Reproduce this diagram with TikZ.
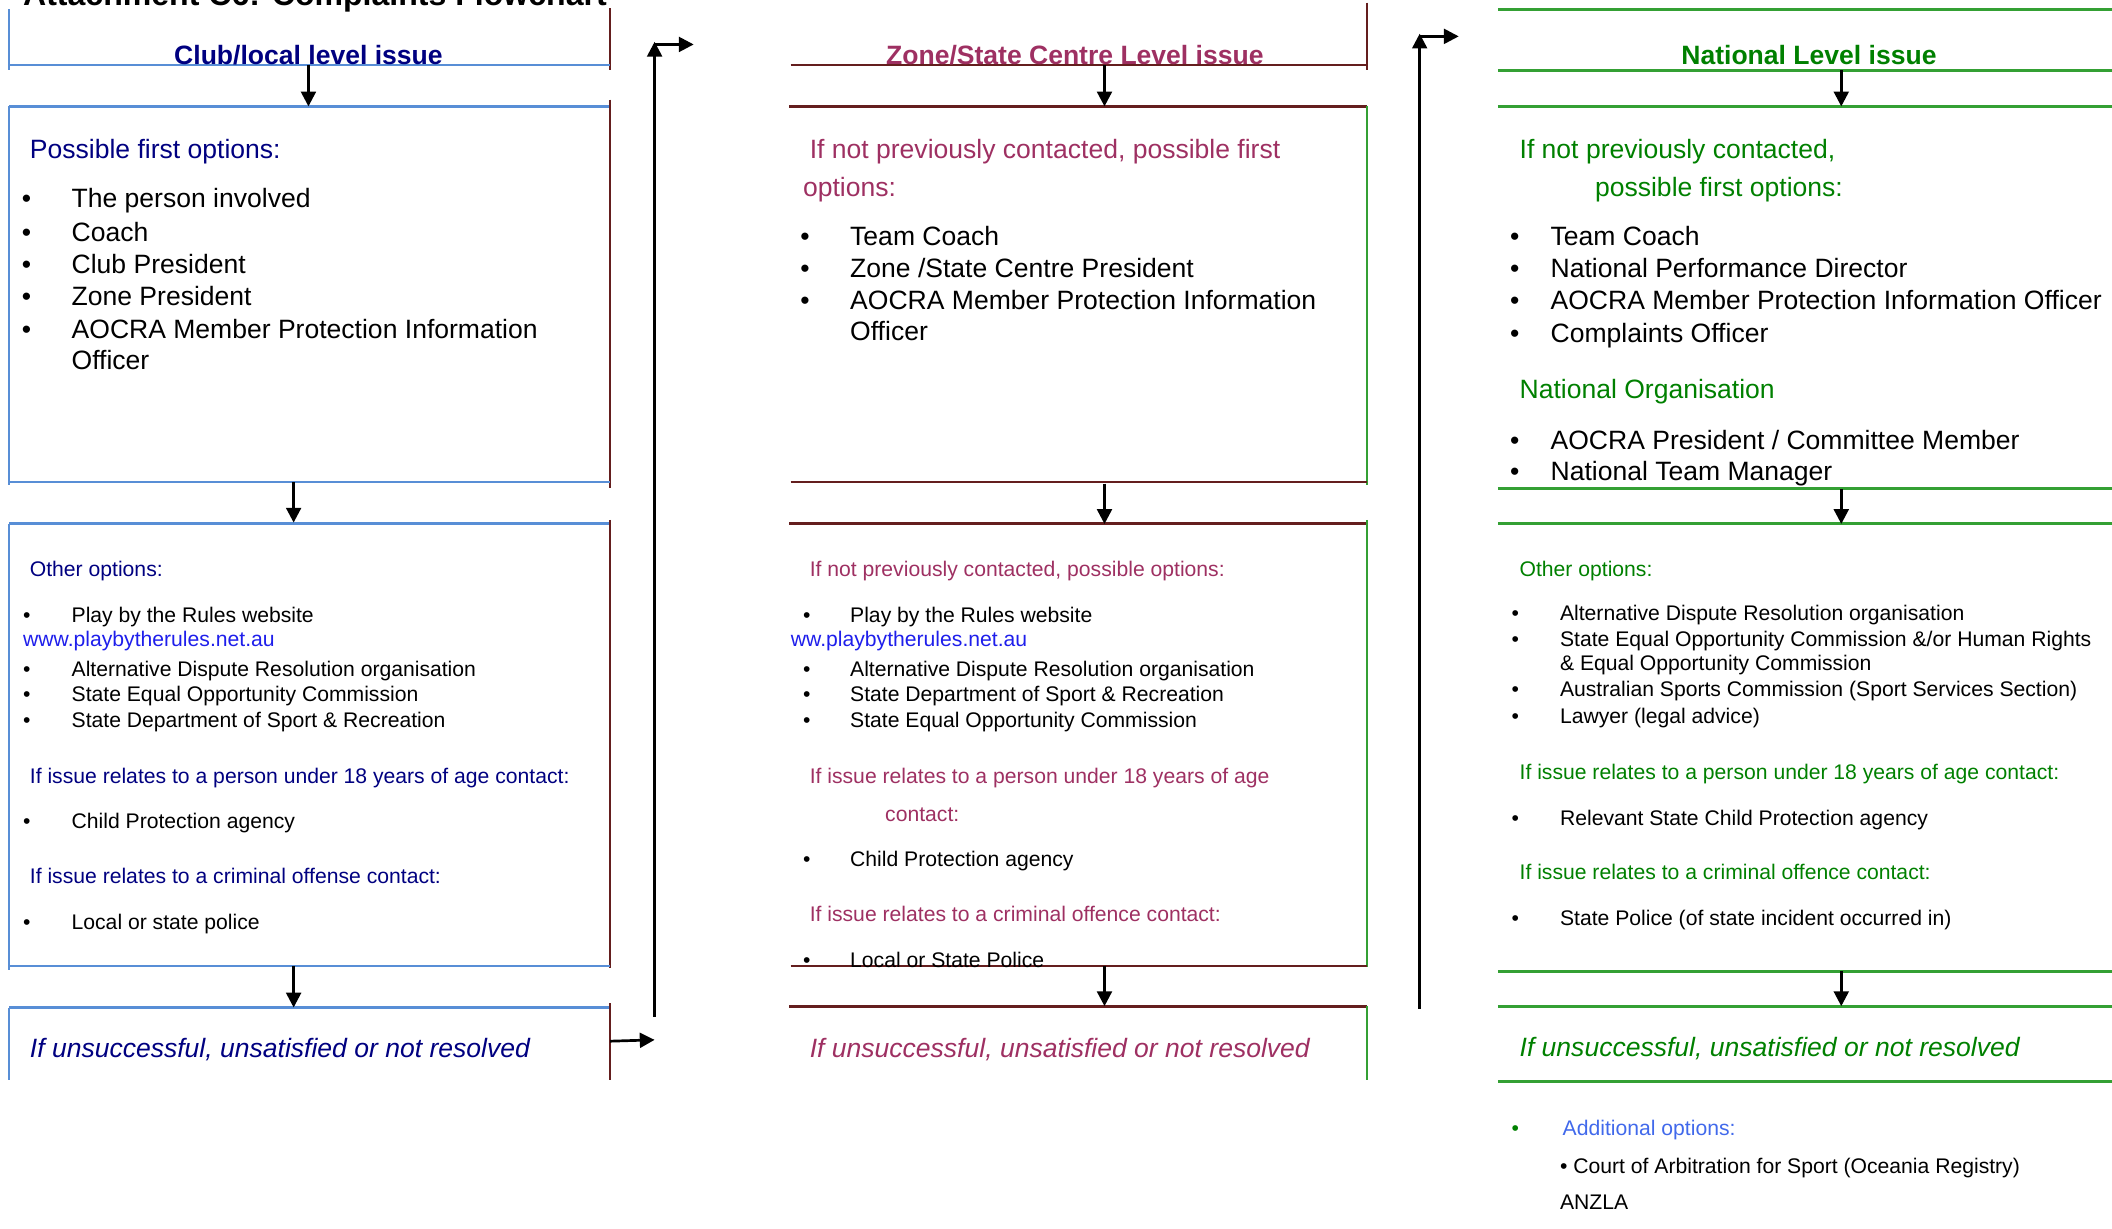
\documentclass[tikz,border=0pt]{standalone}
\usepackage{fontspec}
\setmainfont{Liberation Sans}
\usetikzlibrary{arrows.meta}
\definecolor{cnavy}{RGB}{0,0,128}
\definecolor{cblueline}{RGB}{88,142,214}
\definecolor{cmaroon}{RGB}{100,30,30}
\definecolor{crasp}{RGB}{158,48,98}
\definecolor{cgreen}{RGB}{0,128,0}
\definecolor{cgreenline}{RGB}{52,160,52}
\definecolor{clink}{RGB}{30,30,235}
\definecolor{caddl}{RGB}{65,105,235}
\tikzset{
  big/.style={font=\fontsize{19.7}{24}\selectfont, anchor=base west, inner sep=0pt, yshift=-1pt},
  small/.style={font=\fontsize{15.7}{19}\selectfont, anchor=base west, inner sep=0pt, yshift=-1pt},
  head/.style={font=\fontsize{19.7}{24}\selectfont\bfseries, anchor=base, inner sep=0pt, yshift=-1pt},
  ital/.style={font=\fontsize{19.7}{24}\selectfont\itshape, anchor=base west, inner sep=0pt, yshift=-1pt},
  arr/.style={draw=black, line width=2pt, -{Triangle[length=11pt,width=11pt]}},
  bl/.style={draw=cblueline, line width=1.5pt},
  blt/.style={draw=cblueline, line width=2.2pt},
  mr/.style={draw=cmaroon, line width=1.5pt},
  mrt/.style={draw=cmaroon, line width=2.2pt},
  gr/.style={draw=cgreenline, line width=1.5pt},
  grt/.style={draw=cgreenline, line width=2.2pt},
}
\begin{document}
\begin{tikzpicture}[x=1pt,y=-1pt]
\useasboundingbox (0,0) rectangle (1568,912.4);
\begin{scope}
\clip (0,0) rectangle (1568,912.4);
\node[font=\fontsize{23.8}{28}\selectfont\bfseries, anchor=base west, inner sep=0pt] (title) at (17,4) {Attachment C6: Complaints Flowchart};
\end{scope}

% ---------------- Column 1 lines
\draw[bl] (7,7) -- (7,52);
\draw[mr] (453,6) -- (453,52);
\draw[bl] (7,48) -- (453,48);
\draw[blt] (7,79) -- (453,79);
\draw[bl] (7,79) -- (7,360);
\draw[mr] (453,74) -- (453,362);
\draw[bl] (7,358) -- (453,358);
\draw[blt] (7,389) -- (453,389);
\draw[bl] (7,389) -- (7,720);
\draw[mr] (453,386) -- (453,719);
\draw[bl] (7,717) -- (453,717);
\draw[blt] (7,748) -- (453,748);
\draw[bl] (7,748) -- (7,802);
\draw[mr] (453,745) -- (453,802);

% ---------------- Column 2 lines
\draw[mr] (587,48) -- (1015,48);
\draw[mr] (1015,2) -- (1015,52);
\draw[mrt] (586,79) -- (1015,79);
\draw[gr] (1015,79) -- (1015,360);
\draw[mr] (587,358) -- (1015,358);
\draw[mrt] (586,389) -- (1015,389);
\draw[gr] (1015,386) -- (1015,718);
\draw[mr] (587,717) -- (1015,717);
\draw[mrt] (586,747) -- (1015,747);
\draw[gr] (1015,747) -- (1015,802);

% ---------------- Column 3 lines
\foreach \yy in {7,52,79,363,389,721,747,803}
  \draw[grt] (1112,\yy) -- (1568,\yy);

% ---------------- Column 1 text
\node[head, text=cnavy] (h1) at (229,47) {Club/local level issue};
\node[big, text=cnavy] (p1) at (22,117) {Possible first options:};
\foreach \yy/\tt [count=\i] in {153/{The person involved},178/{Coach},202/{Club President},226/{Zone President},250/{AOCRA Member Protection Information}}{
  \node[big] (b1\i) at (16,\yy) {\textbullet};
  \node[big] (t1\i) at (53,\yy) {\tt};
}
\node[big] (t1off) at (53,273) {Officer};

\node[small, text=cnavy] (o1) at (22,427) {Other options:};
\node[small] (ob11) at (17,461) {\textbullet};
\node[small] (ot11) at (53,461) {Play by the Rules website};
\node[small, text=clink] (w1) at (17,479) {www.playbytherules.net.au};
\foreach \yy/\tt [count=\i] in {501/{Alternative Dispute Resolution organisation},520/{State Equal Opportunity Commission},539/{State Department of Sport \& Recreation}}{
  \node[small] (obb1\i) at (17,\yy) {\textbullet};
  \node[small] (ott1\i) at (53,\yy) {\tt};
}
\node[small, text=cnavy] (u1) at (22,581) {If issue relates to a person under 18 years of age contact:};
\node[small] (ub1) at (17,614) {\textbullet};
\node[small] (ut1) at (53,614) {Child Protection agency};
\node[small, text=cnavy] (c1) at (22,655) {If issue relates to a criminal offense contact:};
\node[small] (cb1) at (17,689) {\textbullet};
\node[small] (ct1) at (53,689) {Local or state police};
\node[ital, text=cnavy] (r1) at (22,784) {If unsuccessful, unsatisfied or not resolved};

% ---------------- Column 2 text
\node[head, text=crasp] (h2) at (798,47) {Zone/State Centre Level issue};
\node[big, text=crasp] (p2a) at (601,117) {If not previously contacted, possible first};
\node[big, text=crasp] (p2b) at (596,145) {options:};
\foreach \yy/\tt [count=\i] in {181/{Team Coach},205/{Zone /State Centre President},229/{AOCRA Member Protection Information}}{
  \node[big] (b2\i) at (594,\yy) {\textbullet};
  \node[big] (t2\i) at (631,\yy) {\tt};
}
\node[big] (t2off) at (631,252) {Officer};

\node[small, text=crasp] (o2) at (601,427) {If not previously contacted, possible options:};
\node[small] (ob21) at (596,461) {\textbullet};
\node[small] (ot21) at (631,461) {Play by the Rules website};
\node[small, text=clink] (w2) at (587,479) {ww.playbytherules.net.au};
\foreach \yy/\tt [count=\i] in {501/{Alternative Dispute Resolution organisation},520/{State Department of Sport \& Recreation},539/{State Equal Opportunity Commission}}{
  \node[small] (obb2\i) at (596,\yy) {\textbullet};
  \node[small] (ott2\i) at (631,\yy) {\tt};
}
\node[small, text=crasp] (u2a) at (601,581) {If issue relates to a person under 18 years of age};
\node[small, text=crasp] (u2b) at (657,609) {contact:};
\node[small] (ub2) at (596,642) {\textbullet};
\node[small] (ut2) at (631,642) {Child Protection agency};
\node[small, text=crasp] (c2) at (601,683) {If issue relates to a criminal offence contact:};
\node[small] (cb2) at (596,717) {\textbullet};
\node[small] (ct2) at (631,717) {Local or State Police};
\node[ital, text=crasp] (r2) at (601,784) {If unsuccessful, unsatisfied or not resolved};

% ---------------- Column 3 text
\node[head, text=cgreen] (h3) at (1343,47) {National Level issue};
\node[big, text=cgreen] (p3a) at (1128,117) {If not previously contacted,};
\node[big, text=cgreen] (p3b) at (1184,145) {possible first options:};
\foreach \yy/\tt [count=\i] in {181/{Team Coach},205/{National Performance Director},229/{AOCRA Member Protection Information Officer},253/{Complaints Officer}}{
  \node[big] (b3\i) at (1121,\yy) {\textbullet};
  \node[big] (t3\i) at (1151,\yy) {\tt};
}
\node[big, text=cgreen] (n3) at (1128,295) {National Organisation};
\foreach \yy/\tt [count=\i] in {333/{AOCRA President / Committee Member},356/{National Team Manager}}{
  \node[big] (nb3\i) at (1121,\yy) {\textbullet};
  \node[big] (nt3\i) at (1151,\yy) {\tt};
}

\node[small, text=cgreen] (o3) at (1128,427) {Other options:};
\foreach \yy/\tt [count=\i] in {460/{Alternative Dispute Resolution organisation},479/{State Equal Opportunity Commission \&/or Human Rights},516/{Australian Sports Commission (Sport Services Section)},536/{Lawyer (legal advice)}}{
  \node[small] (obb3\i) at (1122,\yy) {\textbullet};
  \node[small] (ott3\i) at (1158,\yy) {\tt};
}
\node[small] (ott3x) at (1158,497) {\& Equal Opportunity Commission};
\node[small, text=cgreen] (u3) at (1128,578) {If issue relates to a person under 18 years of age contact:};
\node[small] (ub3) at (1122,612) {\textbullet};
\node[small] (ut3) at (1158,612) {Relevant State Child Protection agency};
\node[small, text=cgreen] (c3) at (1128,652) {If issue relates to a criminal offence contact:};
\node[small] (cb3) at (1122,686) {\textbullet};
\node[small] (ct3) at (1158,686) {State Police (of state incident occurred in)};
\node[ital, text=cgreen] (r3) at (1128,783) {If unsuccessful, unsatisfied or not resolved};

\node[small, text=cgreen] (ab) at (1122,842) {\textbullet};
\node[small, text=caddl] (ad) at (1160,842) {Additional options:};
\node[small] (cas) at (1158,870) {\textbullet\ Court of Arbitration for Sport (Oceania Registry)};
\node[small] (anz) at (1158,897) {ANZLA};

% ---------------- Arrows
\coordinate (a1s) at (229,48);  \coordinate (a1e) at (229,79);
\coordinate (a2s) at (218,358); \coordinate (a2e) at (218,388);
\coordinate (a3s) at (218,717); \coordinate (a3e) at (218,748);
\draw[arr] (a1s) -- (a1e);
\draw[arr] (a2s) -- (a2e);
\draw[arr] (a3s) -- (a3e);
\coordinate (s1a) at (453,773); \coordinate (s1b) at (486,772);
\coordinate (v1b) at (486,755); \coordinate (v1t) at (486,31);
\coordinate (h1a) at (486,33);  \coordinate (h1b) at (515,33);
\draw[arr] (s1a) -- (s1b);
\draw[arr] (v1b) -- (v1t);
\draw[arr] (h1a) -- (h1b);

\coordinate (b1s) at (820,48);  \coordinate (b1e) at (820,79);
\coordinate (b2s) at (820,359); \coordinate (b2e) at (820,389);
\coordinate (b3s) at (820,717); \coordinate (b3e) at (820,747);
\draw[arr] (b1s) -- (b1e);
\draw[arr] (b2s) -- (b2e);
\draw[arr] (b3s) -- (b3e);

\coordinate (c1s) at (1367,52);  \coordinate (c1e) at (1367,79);
\coordinate (c2s) at (1367,363); \coordinate (c2e) at (1367,389);
\coordinate (c3s) at (1367,721); \coordinate (c3e) at (1367,747);
\draw[arr] (c1s) -- (c1e);
\draw[arr] (c2s) -- (c2e);
\draw[arr] (c3s) -- (c3e);
\coordinate (v2b) at (1054,749); \coordinate (v2t) at (1054,25);
\coordinate (h2a) at (1054,27);  \coordinate (h2b) at (1083,27);
\draw[arr] (v2b) -- (v2t);
\draw[arr] (h2a) -- (h2b);
\end{tikzpicture}
\end{document}
